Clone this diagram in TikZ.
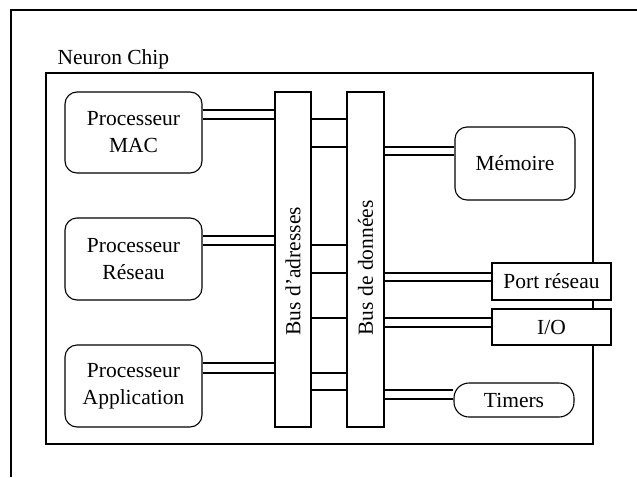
\documentclass[tikz,border=0pt]{standalone}
\usepackage{fontspec}
\setmainfont{Liberation Serif}
\begin{document}
\begin{tikzpicture}[x=1pt,y=-1pt,
  line width=1.1pt,
  lbl/.style={font=\fontsize{21.5}{27}\selectfont},
  rbox/.style={draw,rounded corners=12pt,fill=white,align=center,lbl,inner sep=0pt},
  sbox/.style={draw,fill=white,align=center,lbl,inner sep=0pt},
  busbox/.style={draw,fill=white,inner sep=0pt}]
\useasboundingbox (0,0) rectangle (637,477);
% outer frame (cropped)
\draw (11,477) -- (11,10) -- (637,10);
% inner frame
\node[draw,minimum width=547pt,minimum height=371pt,inner sep=0pt] (chip) at (319.5,258.5) {};
\node[lbl,anchor=base west,inner sep=0pt] (chiplbl) at (57,64) {Neuron Chip};
% buses
\node[busbox,minimum width=36pt,minimum height=335pt] (ba) at (293,259.5) {};
\node[busbox,minimum width=37pt,minimum height=335pt] (bd) at (365.5,259.5) {};
\node[lbl,rotate=90,anchor=west,inner sep=0pt] (balbl) at (293,336) {Bus d'adresses};
\node[lbl,rotate=90,anchor=west,inner sep=0pt] (bdlbl) at (365.5,336) {Bus de données};
% processors
\node[rbox,minimum width=137pt,minimum height=81pt] (mac) at (133.5,132.5) {Processeur\\MAC};
\node[rbox,minimum width=137pt,minimum height=82pt] (res) at (133.5,259) {Processeur\\Réseau};
\node[rbox,minimum width=137pt,minimum height=82pt] (app) at (133.5,386) {Processeur\\Application};
% peripherals
\node[rbox,minimum width=120pt,minimum height=73pt] (mem) at (515,163.5) {Mémoire};
\node[sbox,minimum width=119pt,minimum height=37pt] (port) at (551.5,281.5) {Port réseau};
\node[sbox,minimum width=119pt,minimum height=36pt] (io) at (551.5,327) {I/O};
\node[rbox,rounded corners=15pt,minimum width=120pt,minimum height=34pt] (tim) at (514,400) {Timers};
% processors to address bus
\foreach \y in {110,119} \draw (mac.east |- 0,\y) -- (ba.west |- 0,\y);
\foreach \y in {236,245} \draw (res.east |- 0,\y) -- (ba.west |- 0,\y);
\foreach \y in {363,373} \draw (app.east |- 0,\y) -- (ba.west |- 0,\y);
% address bus to data bus
\foreach \y in {119,147,245,273,318,373,390} \draw (ba.east |- 0,\y) -- (bd.west |- 0,\y);
% data bus to peripherals
\foreach \y in {147,155} \draw (bd.east |- 0,\y) -- (mem.west |- 0,\y);
\foreach \y in {273,281} \draw (bd.east |- 0,\y) -- (port.west |- 0,\y);
\foreach \y in {318,327} \draw (bd.east |- 0,\y) -- (io.west |- 0,\y);
\foreach \y in {390,399} \draw (bd.east |- 0,\y) -- (tim.west |- 0,\y);
\end{tikzpicture}
\end{document}
